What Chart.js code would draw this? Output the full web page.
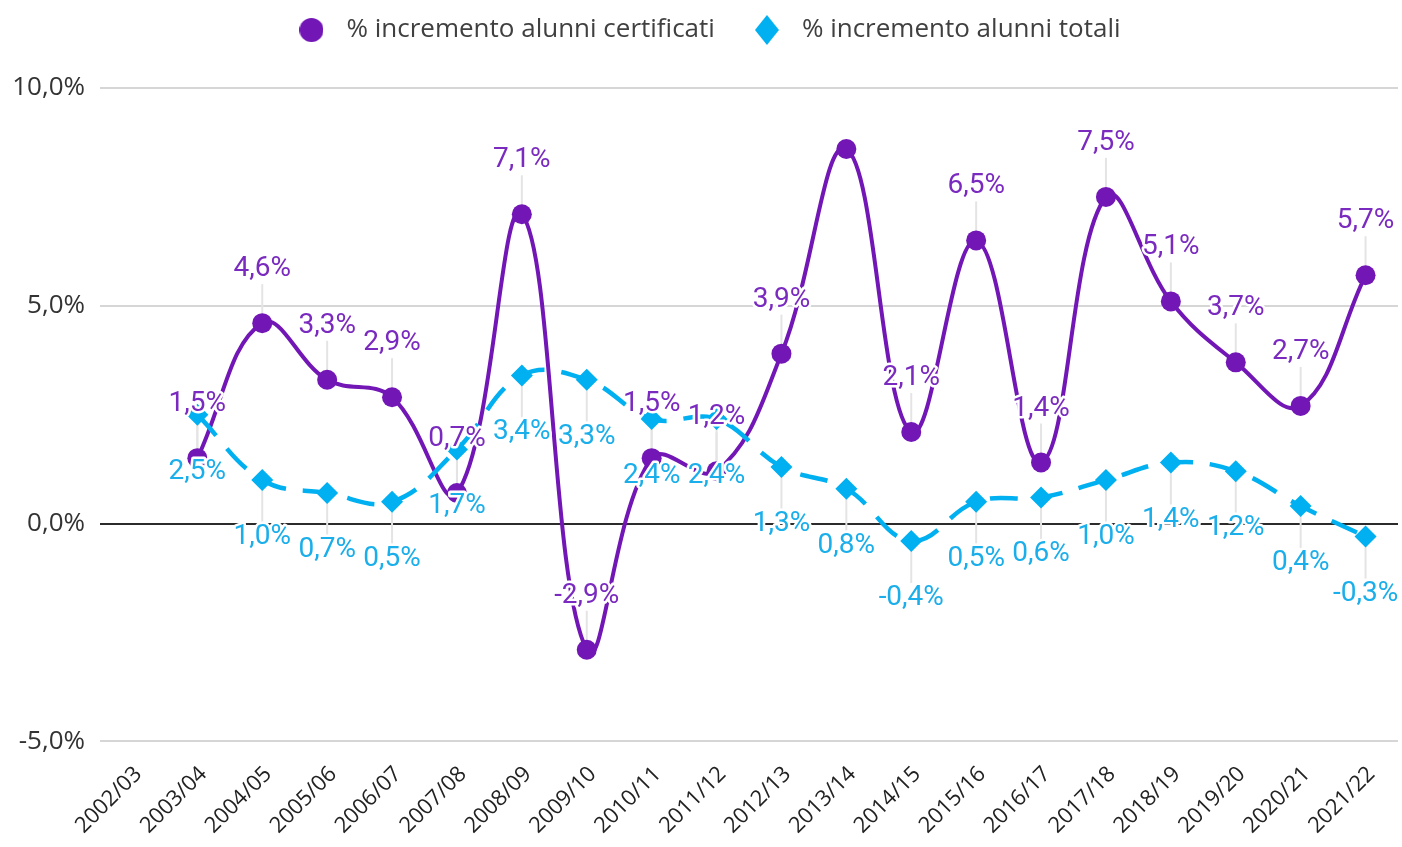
<!DOCTYPE html>
<html lang="it">
<head>
<meta charset="UTF-8">
<title>Incremento alunni</title>
<script src="https://cdn.jsdelivr.net/npm/chart.js"></script>
<style>
  html, body { margin: 0; padding: 0; background: #fff; }
  #wrap { width: 1402px; height: 847px; position: relative; }
</style>
</head>
<body>
<div id="wrap"><canvas id="grafico"></canvas></div>
<script>
// dati
const anni = ['2002/03', '2003/04', '2004/05', '2005/06', '2006/07', '2007/08', '2008/09',
  '2009/10', '2010/11', '2011/12', '2012/13', '2013/14', '2014/15', '2015/16', '2016/17',
  '2017/18', '2018/19', '2019/20', '2020/21', '2021/22'];
const certificati = [null, 1.5, 4.6, 3.3, 2.9, 0.7, 7.1, -2.9, 1.5, 1.2, 3.9, 8.6, 2.1, 6.5, 1.4, 7.5, 5.1, 3.7, 2.7, 5.7];
const totali = [null, 2.5, 1.0, 0.7, 0.5, 1.7, 3.4, 3.3, 2.4, 2.4, 1.3, 0.8, -0.4, 0.5, 0.6, 1.0, 1.4, 1.2, 0.4, -0.3];
const tickY = [-5, 0, 5, 10];

const VIOLA = '#7216b5';
const CIANO = '#00b0f0';

function percento(v) {
  return v.toFixed(1).replace('.', ',') + '%';
}

// icone della legenda (cerchio e rombo allungato)
function icona(colore, forma) {
  const c = document.createElement('canvas');
  const g = c.getContext('2d');
  if (forma === 'cerchio') {
    c.width = 24; c.height = 24;
    g.fillStyle = colore;
    g.beginPath(); g.arc(12, 12, 12, 0, Math.PI * 2); g.fill();
  } else {
    c.width = 24; c.height = 30;
    g.fillStyle = colore;
    g.beginPath();
    g.moveTo(12, 0); g.lineTo(24, 15); g.lineTo(12, 30); g.lineTo(0, 15);
    g.closePath(); g.fill();
  }
  return c;
}
const iconeLegenda = [icona(VIOLA, 'cerchio'), icona(CIANO, 'rombo')];

// spazio extra sotto la legenda
const spazioLegenda = {
  id: 'spazioLegenda',
  beforeInit(chart) {
    const fit = chart.legend.fit;
    chart.legend.fit = function () {
      fit.call(this);
      this.height += 35;
    };
  }
};

// etichette dei valori con linea guida grigia
const stileEtichette = [
  { colore: '#7a2abf', scarto: -54 },
  { colore: '#1aaeea', scarto: 57 }
];
const etichette = {
  id: 'etichette',
  beforeDatasetsDraw(chart) {
    const ctx = chart.ctx;
    ctx.save();
    ctx.strokeStyle = '#e4e4e4';
    ctx.lineWidth = 2;
    chart.data.datasets.forEach((ds, i) => {
      const s = stileEtichette[i];
      chart.getDatasetMeta(i).data.forEach((pt, j) => {
        if (ds.data[j] === null) return;
        const yl = pt.y + s.scarto;
        if (yl - 14 < chart.chartArea.top) return;
        ctx.beginPath();
        ctx.moveTo(pt.x, pt.y);
        ctx.lineTo(pt.x, yl - Math.sign(s.scarto) * 15);
        ctx.stroke();
      });
    });
    ctx.restore();
  },
  afterDatasetsDraw(chart) {
    const ctx = chart.ctx;
    ctx.save();
    ctx.font = '28px Roboto';
    ctx.textAlign = 'center';
    ctx.textBaseline = 'middle';
    ctx.lineJoin = 'round';
    chart.data.datasets.forEach((ds, i) => {
      const s = stileEtichette[i];
      chart.getDatasetMeta(i).data.forEach((pt, j) => {
        const v = ds.data[j];
        if (v === null) return;
        const yl = pt.y + s.scarto;
        if (yl - 14 < chart.chartArea.top) return;
        const testo = percento(v);
        ctx.strokeStyle = '#fff';
        ctx.lineWidth = 5;
        ctx.strokeText(testo, pt.x, yl);
        ctx.fillStyle = s.colore;
        ctx.fillText(testo, pt.x, yl);
      });
    });
    ctx.restore();
  }
};

new Chart(document.getElementById('grafico'), {
  type: 'line',
  data: {
    labels: anni,
    datasets: [{
      label: '% incremento alunni certificati',
      data: certificati,
      borderColor: VIOLA,
      backgroundColor: VIOLA,
      borderWidth: 4,
      tension: 0.4,
      pointStyle: 'circle',
      pointRadius: 10,
      pointBorderWidth: 0,
      order: 1
    }, {
      label: '% incremento alunni totali',
      data: totali,
      borderColor: CIANO,
      backgroundColor: CIANO,
      borderWidth: 4.5,
      borderDash: [28, 17],
      tension: 0.4,
      pointStyle: 'rectRot',
      pointRadius: 11,
      pointBorderWidth: 0,
      order: 0
    }]
  },
  options: {
    responsive: true,
    maintainAspectRatio: false,
    animation: false,
    layout: { autoPadding: false, padding: { left: 12, right: 4, top: -13, bottom: -12 } },
    plugins: {
      tooltip: { enabled: false },
      legend: {
        position: 'top',
        labels: {
          font: { family: 'Open Sans', size: 26 },
          color: '#404040',
          usePointStyle: true,
          pointStyleWidth: 44,
          padding: 30,
          sort: (a, b) => a.datasetIndex - b.datasetIndex,
          generateLabels(chart) {
            const items = Chart.defaults.plugins.legend.labels.generateLabels(chart);
            items.forEach(it => { it.pointStyle = iconeLegenda[it.datasetIndex]; });
            return items;
          }
        }
      }
    },
    scales: {
      x: {
        offset: true,
        grid: { display: false, drawTicks: false },
        border: { display: false },
        afterFit(scale) {
          scale.paddingRight = 0;
        },
        ticks: {
          font: { family: 'Open Sans', size: 22 },
          color: '#222',
          maxRotation: 45,
          minRotation: 45,
          autoSkip: false,
          labelOffset: 6,
          padding: 20
        }
      },
      y: {
        min: -5,
        max: 10,
        afterBuildTicks(scale) {
          scale.ticks = tickY.map(v => ({ value: v }));
        },
        afterFit(scale) {
          scale.width = 88;
        },
        grid: {
          color: c => (c.tick && c.tick.value === 0) ? '#2b2b2b' : '#d6d6d6',
          lineWidth: 2,
          drawTicks: false
        },
        border: { display: false },
        ticks: {
          font: { family: 'Open Sans', size: 26 },
          color: '#333',
          padding: 15,
          callback: v => percento(v)
        }
      }
    }
  },
  plugins: [spazioLegenda, etichette]
});
</script>
</body>
</html>
